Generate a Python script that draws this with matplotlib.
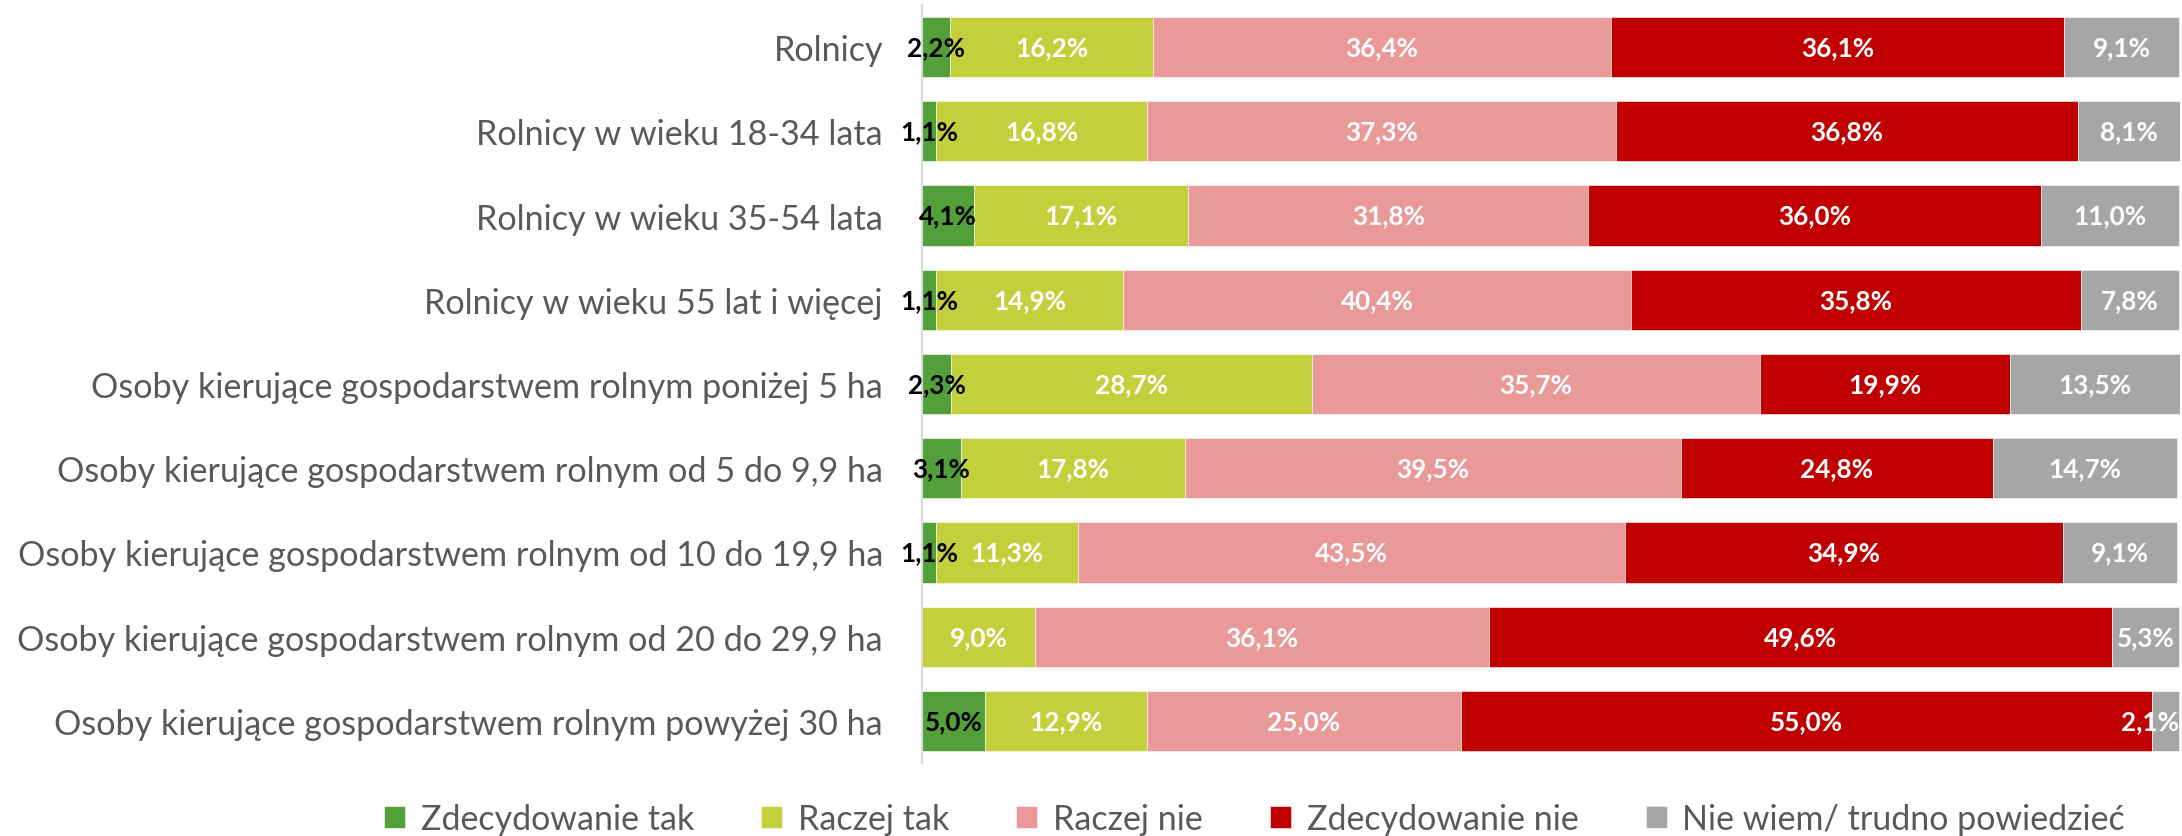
import matplotlib
matplotlib.use("Agg")
import matplotlib.pyplot as plt
import numpy as np

categories = [
    "Rolnicy",
    "Rolnicy w wieku 18-34 lata",
    "Rolnicy w wieku 35-54 lata",
    "Rolnicy w wieku 55 lat i więcej",
    "Osoby kierujące gospodarstwem rolnym poniżej 5 ha",
    "Osoby kierujące gospodarstwem rolnym od 5 do 9,9 ha",
    "Osoby kierujące gospodarstwem rolnym od 10 do 19,9 ha",
    "Osoby kierujące gospodarstwem rolnym od 20 do 29,9 ha",
    "Osoby kierujące gospodarstwem rolnym powyżej 30 ha",
]
series_names = ["Zdecydowanie tak", "Raczej tak", "Raczej nie",
                "Zdecydowanie nie", "Nie wiem/ trudno powiedzieć"]
zdecydowanie_tak = [2.2, 1.1, 4.1, 1.1, 2.3, 3.1, 1.1, 0.0, 5.0]
raczej_tak = [16.2, 16.8, 17.1, 14.9, 28.7, 17.8, 11.3, 9.0, 12.9]
raczej_nie = [36.4, 37.3, 31.8, 40.4, 35.7, 39.5, 43.5, 36.1, 25.0]
zdecydowanie_nie = [36.1, 36.8, 36.0, 35.8, 19.9, 24.8, 34.9, 49.6, 55.0]
nie_wiem = [9.1, 8.1, 11.0, 7.8, 13.5, 14.7, 9.1, 5.3, 2.1]

series = [zdecydowanie_tak, raczej_tak, raczej_nie, zdecydowanie_nie, nie_wiem]
colors = ["#53A03A", "#C3D03B", "#EA9999", "#C00000", "#A6A6A6"]
label_colors = ["black", "white", "white", "white", "white"]

FONT = "Lato"
plt.rcParams["font.family"] = [FONT, "DejaVu Sans"]

W, H = 2182, 837
fig = plt.figure(figsize=(W / 100, H / 100), dpi=100)
ax = fig.add_axes([922 / W, 1 - 764 / H, (2180 - 922) / W, (764 - 6) / H])

# fit data-label size: "16,2%" is ~73 px wide in the reference
probe = fig.text(0, 0, "16,2%", fontsize=19, fontweight="bold")
fig.canvas.draw()
r = fig.canvas.get_renderer()
fs_val = 19 * 73 / probe.get_window_extent(r).width
probe.remove()

y = np.arange(len(categories))
left = np.zeros(len(categories))
n_series = len(series)
for si, (vals, col, lc, name) in enumerate(zip(series, colors, label_colors, series_names)):
    vals = np.array(vals)
    ax.barh(y, vals, left=left, height=0.714, color=col, edgecolor="white",
            linewidth=0.4, label=name)
    for yi, (l, v) in enumerate(zip(left, vals)):
        if v > 0:
            txt = f"{v:.1f}%".replace(".", ",")
            if si == n_series - 1 and v < 4:
                ax.text(l + v, yi, txt, ha="right", va="center", color=lc,
                        fontsize=fs_val, fontweight="bold")
            else:
                ax.text(l + v / 2, yi, txt, ha="center", va="center", color=lc,
                        fontsize=fs_val, fontweight="bold")
    left = left + vals

ax.set_ylim(len(categories) - 0.5, -0.5)
ax.set_xlim(0, 100.1)
ax.set_yticks(y)
ax.set_yticklabels(categories, fontsize=25, color="#595959")
ax.tick_params(axis="y", length=0, pad=28)
ax.set_xticks([])
for s in ["top", "right", "bottom"]:
    ax.spines[s].set_visible(False)
ax.spines["left"].set_color("#D9D9D9")
ax.spines["left"].set_linewidth(1.5)

# fit category label font so the longest label spans ~868 px as in the reference
fig.canvas.draw()
wmax = max(t.get_window_extent(r).width for t in ax.get_yticklabels())
fs_lab = 25 * 868 / wmax
for t in ax.get_yticklabels():
    t.set_fontsize(fs_lab)

# legend, fitted to span 384..2125 px
fs_leg = 24.5
fpx = fs_leg * 100 / 72
cs = 2.0
target = 2125 - 384
for _ in range(4):
    leg = fig.legend(loc="center", bbox_to_anchor=(0.5, 1 - 820 / H), ncol=5,
                     frameon=False, fontsize=fs_leg, handlelength=0.62,
                     handleheight=0.62, handletextpad=0.46, columnspacing=cs,
                     borderpad=0)
    fig.canvas.draw()
    cur = leg.get_window_extent(r).width
    leg.remove()
    cs = cs + (target - cur) / 4 / fpx
leg = fig.legend(loc="center", bbox_to_anchor=((384 + 2125) / 2 / W, 1 - 820 / H), ncol=5,
                 frameon=False, fontsize=fs_leg, handlelength=0.62,
                 handleheight=0.62, handletextpad=0.46, columnspacing=cs,
                 borderpad=0)
for t in leg.get_texts():
    t.set_color("#595959")

fig.savefig("out.png", dpi=100)
